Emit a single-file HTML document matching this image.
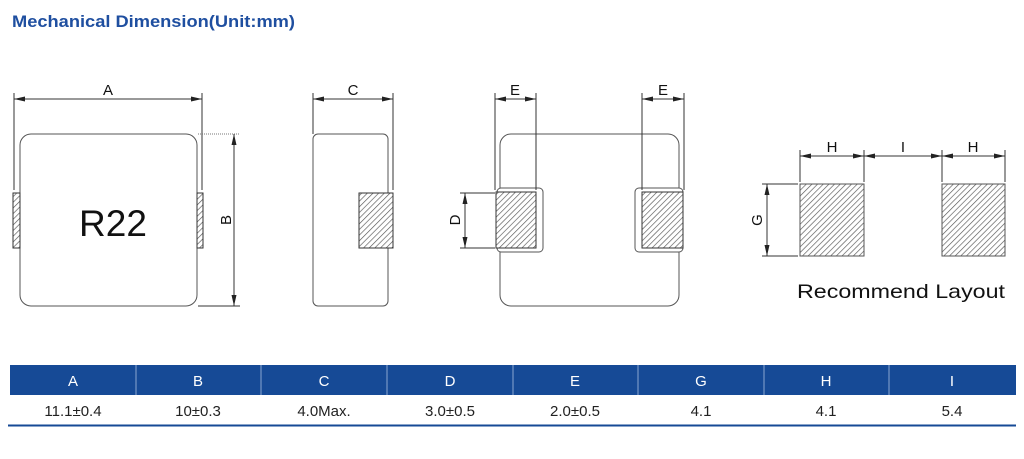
<!DOCTYPE html>
<html><head><meta charset="utf-8"><style>
html,body{margin:0;padding:0;background:#fff;width:1024px;height:459px;overflow:hidden}
svg{display:block}
text{font-family:"Liberation Sans",sans-serif}
</style></head><body>
<svg width="1024" height="459" viewBox="0 0 1024 459" xmlns="http://www.w3.org/2000/svg">
<defs>
<pattern id="h" patternUnits="userSpaceOnUse" width="4" height="4" patternTransform="rotate(45)">
<rect width="4" height="4" fill="#fff"/><line x1="0" y1="0" x2="0" y2="4" stroke="#555" stroke-width="1.3"/>
</pattern>
<marker id="ar" markerWidth="11" markerHeight="7" refX="11" refY="3.5" orient="auto" markerUnits="userSpaceOnUse">
<path d="M0,1 L11,3.5 L0,6 Z" fill="#222"/></marker>
<marker id="al" markerWidth="11" markerHeight="7" refX="0" refY="3.5" orient="auto" markerUnits="userSpaceOnUse">
<path d="M11,1 L0,3.5 L11,6 Z" fill="#222"/></marker>
</defs>
<text x="12" y="27" font-size="16.5" font-weight="bold" fill="#1f4fa0" textLength="283" lengthAdjust="spacingAndGlyphs">Mechanical Dimension(Unit:mm)</text>

<g stroke="#333" stroke-width="1" fill="none">
<rect x="20" y="134" width="177" height="172" rx="11" stroke="#555"/>
<rect x="13" y="193" width="7" height="55" fill="url(#h)"/>
<rect x="197" y="193" width="6" height="55" fill="url(#h)"/>
<line x1="14" y1="93" x2="14" y2="190"/>
<line x1="202" y1="93" x2="202" y2="190"/>
<line x1="14" y1="99" x2="202" y2="99" marker-start="url(#al)" marker-end="url(#ar)"/>
<line x1="198" y1="134" x2="240" y2="134" stroke="#777" stroke-dasharray="1,1"/>
<line x1="198" y1="306" x2="240" y2="306"/>
<line x1="234" y1="134" x2="234" y2="306" marker-start="url(#al)" marker-end="url(#ar)"/>
<rect x="313" y="134" width="75" height="172" rx="5" stroke="#555"/>
<rect x="359" y="193" width="34" height="55" fill="url(#h)"/>
<line x1="313" y1="93" x2="313" y2="134"/>
<line x1="393" y1="93" x2="393" y2="190"/>
<line x1="313" y1="99" x2="393" y2="99" marker-start="url(#al)" marker-end="url(#ar)"/>
<rect x="500" y="134" width="179" height="172" rx="11" stroke="#555"/>
<rect x="497" y="188" width="46" height="64" rx="4" fill="#fff" stroke="#555"/>
<rect x="635" y="188" width="48" height="64" rx="4" fill="#fff" stroke="#555"/>
<rect x="496" y="192" width="40" height="56" fill="url(#h)"/>
<rect x="642" y="192" width="41" height="56" fill="url(#h)"/>
<line x1="495" y1="93" x2="495" y2="190"/>
<line x1="536" y1="93" x2="536" y2="190"/>
<line x1="642" y1="93" x2="642" y2="190"/>
<line x1="684" y1="93" x2="684" y2="190"/>
<line x1="495" y1="99" x2="536" y2="99" marker-start="url(#al)" marker-end="url(#ar)"/>
<line x1="642" y1="99" x2="684" y2="99" marker-start="url(#al)" marker-end="url(#ar)"/>
<line x1="460" y1="193" x2="495" y2="193"/>
<line x1="460" y1="248" x2="495" y2="248"/>
<line x1="465" y1="193" x2="465" y2="248" marker-start="url(#al)" marker-end="url(#ar)"/>
<rect x="800" y="184" width="64" height="72" fill="url(#h)" stroke="#555"/>
<rect x="942" y="184" width="63" height="72" fill="url(#h)" stroke="#555"/>
<line x1="800" y1="150" x2="800" y2="182"/>
<line x1="864" y1="150" x2="864" y2="182"/>
<line x1="942" y1="150" x2="942" y2="182"/>
<line x1="1005" y1="150" x2="1005" y2="182"/>
<line x1="800" y1="156" x2="864" y2="156" marker-start="url(#al)" marker-end="url(#ar)"/>
<line x1="864" y1="156" x2="942" y2="156" marker-start="url(#al)" marker-end="url(#ar)"/>
<line x1="942" y1="156" x2="1005" y2="156" marker-start="url(#al)" marker-end="url(#ar)"/>
<line x1="762" y1="184" x2="798" y2="184"/>
<line x1="762" y1="256" x2="798" y2="256"/>
<line x1="767" y1="184" x2="767" y2="256" marker-start="url(#al)" marker-end="url(#ar)"/>
</g>

<g font-size="15" fill="#111" text-anchor="middle">
<text x="108" y="95">A</text>
<text x="353" y="95">C</text>
<text x="515" y="95">E</text>
<text x="663" y="95">E</text>
<text x="832" y="152">H</text>
<text x="903" y="152">I</text>
<text x="973" y="152">H</text>
<text transform="translate(231,220) rotate(-90)">B</text>
<text transform="translate(460,220) rotate(-90)">D</text>
<text transform="translate(762,220) rotate(-90)">G</text>
</g>
<text x="113" y="236" font-size="37" text-anchor="middle" fill="#111">R22</text>
<text x="797" y="298" font-size="19.5" fill="#111" textLength="208" lengthAdjust="spacingAndGlyphs">Recommend Layout</text>

<rect x="10" y="365" width="1006" height="30" fill="#164a96"/>
<g stroke="#8aa6d0" stroke-width="1">
<line x1="136" y1="365" x2="136" y2="395"/><line x1="261" y1="365" x2="261" y2="395"/>
<line x1="387" y1="365" x2="387" y2="395"/><line x1="513" y1="365" x2="513" y2="395"/>
<line x1="638" y1="365" x2="638" y2="395"/><line x1="764" y1="365" x2="764" y2="395"/>
<line x1="889" y1="365" x2="889" y2="395"/>
</g>
<line x1="8" y1="425.5" x2="1016" y2="425.5" stroke="#164a96" stroke-width="2"/>
<g font-size="15" fill="#fff" text-anchor="middle">
<text x="73" y="386">A</text><text x="198" y="386">B</text><text x="324" y="386">C</text>
<text x="450" y="386">D</text><text x="575" y="386">E</text><text x="701" y="386">G</text>
<text x="826" y="386">H</text><text x="952" y="386">I</text>
</g>
<g font-size="15" fill="#222" text-anchor="middle">
<text x="73" y="416">11.1±0.4</text><text x="198" y="416">10±0.3</text><text x="324" y="416">4.0Max.</text>
<text x="450" y="416">3.0±0.5</text><text x="575" y="416">2.0±0.5</text><text x="701" y="416">4.1</text>
<text x="826" y="416">4.1</text><text x="952" y="416">5.4</text>
</g>
</svg>
</body></html>
